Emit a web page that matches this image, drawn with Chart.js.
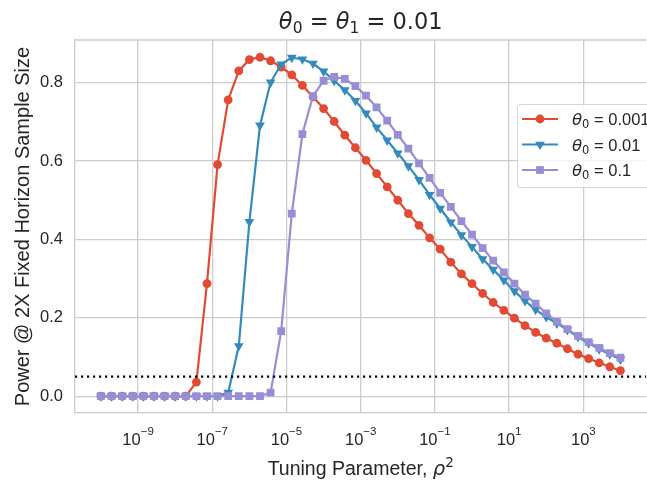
<!DOCTYPE html>
<html>
<head>
<meta charset="utf-8">
<script src="https://cdn.jsdelivr.net/npm/chart.js@4"></script>
<style>
  html, body { margin: 0; padding: 0; background: #fff; overflow: hidden; }
  canvas { display: block; }
</style>
</head>
<body>
<canvas id="chart" width="652" height="481"></canvas>
<script>
// tuning parameter rho^2 (log spaced, 1e-10 .. 1e4, 50 points)
const rhoSq = [
  1e-10, 1.931e-10, 3.728e-10, 7.197e-10, 1.389e-9, 2.683e-9, 5.179e-9,
  1e-8, 1.931e-8, 3.728e-8, 7.197e-8, 1.389e-7, 2.683e-7, 5.179e-7,
  1e-6, 1.931e-6, 3.728e-6, 7.197e-6, 1.389e-5, 2.683e-5, 5.179e-5,
  1e-4, 1.931e-4, 3.728e-4, 7.197e-4, 1.389e-3, 2.683e-3, 5.179e-3,
  1e-2, 1.931e-2, 3.728e-2, 7.197e-2, 0.1389, 0.2683, 0.5179,
  1, 1.931, 3.728, 7.197, 13.89, 26.83, 51.79,
  100, 193.1, 372.8, 719.7, 1389, 2683, 5179,
  10000,
];

const powerTheta0001 = [
  0, 0, 0, 0, 0, 0, 0, 0, 0, 0.036,
  0.287, 0.591, 0.756, 0.830, 0.859, 0.865, 0.856, 0.840, 0.820, 0.793,
  0.764, 0.734, 0.701, 0.666, 0.634, 0.602, 0.568, 0.534, 0.500, 0.466,
  0.436, 0.404, 0.375, 0.342, 0.312, 0.287, 0.262, 0.239, 0.219, 0.199,
  0.180, 0.163, 0.148, 0.135, 0.121, 0.107, 0.096, 0.085, 0.075, 0.065,
];

const powerTheta001 = [
  0, 0, 0, 0, 0, 0, 0, 0, 0, 0,
  0, 0, 0.009, 0.128, 0.445, 0.691, 0.801, 0.847, 0.864, 0.860,
  0.849, 0.829, 0.805, 0.781, 0.754, 0.722, 0.686, 0.653, 0.620, 0.587,
  0.552, 0.514, 0.479, 0.444, 0.411, 0.381, 0.350, 0.323, 0.296, 0.268,
  0.243, 0.221, 0.202, 0.186, 0.169, 0.151, 0.135, 0.120, 0.107, 0.094,
];

const powerTheta01 = [
  0, 0, 0, 0, 0, 0, 0, 0, 0, 0,
  0, 0, 0, 0, 0, 0, 0.009, 0.166, 0.466, 0.669,
  0.766, 0.805, 0.815, 0.810, 0.791, 0.767, 0.737, 0.703, 0.667, 0.632,
  0.594, 0.557, 0.519, 0.483, 0.447, 0.412, 0.378, 0.346, 0.316, 0.287,
  0.259, 0.236, 0.211, 0.190, 0.171, 0.154, 0.138, 0.123, 0.110, 0.098,
];

const seriesNames = ["0.001", "0.01", "0.1"];
const seriesColors = ["#E24A33", "#348ABD", "#988ED5"];
const alphaLevel = 0.05;

const xTickValues = [1e-9, 1e-7, 1e-5, 1e-3, 1e-1, 1e1, 1e3];
const xTickExponents = ["\u22129", "\u22127", "\u22125", "\u22123", "\u22121", "1", "3"];
const yTickValues = [0, 0.2, 0.4, 0.6, 0.8];

const xMin = Math.pow(10, -10.7);
const xMax = Math.pow(10, 4.7);

const TEXT = "#262626";
const GRID = "#cccccc";
const SANS = '"Liberation Sans", Arial, sans-serif';
const MATH = '"DejaVu Sans", sans-serif';

function toPoints(ys) {
  return rhoSq.map((x, i) => ({ x: x, y: ys[i] }));
}

// draw a run of text pieces (for sub/superscripts)
function richWidth(ctx, parts) {
  let w = 0;
  parts.forEach((p) => {
    ctx.font = p.font;
    w += ctx.measureText(p.text).width;
  });
  return w;
}

function drawRich(ctx, parts, x, y, align) {
  let cx = align === "center" ? x - richWidth(ctx, parts) / 2 : x;
  ctx.textAlign = "left";
  ctx.textBaseline = "alphabetic";
  parts.forEach((p) => {
    ctx.font = p.font;
    ctx.fillText(p.text, cx, y + (p.dy || 0));
    cx += ctx.measureText(p.text).width;
  });
}

const markerStyles = [
  { pointStyle: "circle", rotation: 0, radius: 4.4 },
  { pointStyle: "triangle", rotation: 180, radius: 5.6 },
  { pointStyle: "rect", rotation: 0, radius: 5.5 },
];

const decorPlugin = {
  id: "decor",
  afterDraw(chart) {
    const ctx = chart.ctx;
    const area = chart.chartArea;
    const xs = chart.scales.x;
    const midX = (area.left + area.right) / 2;

    ctx.save();
    ctx.fillStyle = TEXT;

    // top spine
    ctx.strokeStyle = GRID;
    ctx.lineWidth = 1.3;
    ctx.beginPath();
    ctx.moveTo(area.left, area.top);
    ctx.lineTo(area.right, area.top);
    ctx.stroke();

    // title
    const big = "22.5px " + MATH;
    const bigIt = "italic 22.5px " + MATH;
    const sub = "15.5px " + MATH;
    drawRich(ctx, [
      { text: "\u03b8", font: bigIt },
      { text: "0", font: sub, dy: 3.5 },
      { text: " = ", font: big },
      { text: "\u03b8", font: bigIt },
      { text: "1", font: sub, dy: 3.5 },
      { text: " = ", font: big },
      { text: "0.01", font: big },
    ], midX, 29, "center");

    // x tick labels 10^k
    xTickValues.forEach((v, i) => {
      const px = xs.getPixelForValue(v);
      drawRich(ctx, [
        { text: "10", font: "16.5px " + SANS },
        { text: xTickExponents[i], font: "11.5px " + SANS, dy: -10 },
      ], px, 445, "center");
    });

    // x axis title
    drawRich(ctx, [
      { text: "Tuning Parameter, ", font: "19.5px " + SANS },
      { text: "\u03c1", font: "italic 19.5px " + MATH },
      { text: "2", font: "13.5px " + MATH, dy: -8 },
    ], midX, 475, "center");

    // y axis title
    ctx.save();
    ctx.translate(29, (area.top + area.bottom) / 2);
    ctx.rotate(-Math.PI / 2);
    ctx.font = "20px " + SANS;
    ctx.textAlign = "center";
    ctx.textBaseline = "alphabetic";
    ctx.fillText("Power @ 2X Fixed Horizon Sample Size", 0, 0);
    ctx.restore();

    // legend
    const lx = 517, ly = 104, rowH = 25.5;
    const labelParts = (name) => [
      { text: "\u03b8", font: "italic 16.5px " + MATH },
      { text: "0", font: "11.5px " + MATH, dy: 3 },
      { text: " = " + name, font: "16.5px " + SANS },
    ];
    let maxW = 0;
    seriesNames.forEach((n) => { maxW = Math.max(maxW, richWidth(ctx, labelParts(n))); });
    const boxW = 55 + maxW + 8;
    const boxH = 83;
    ctx.beginPath();
    ctx.roundRect(lx + 0.5, ly + 0.5, boxW, boxH, 3);
    ctx.fillStyle = "rgba(255,255,255,0.8)";
    ctx.fill();
    ctx.strokeStyle = "rgba(204,204,204,0.8)";
    ctx.lineWidth = 1;
    ctx.stroke();

    seriesNames.forEach((n, i) => {
      const cy = ly + 15 + i * rowH;
      ctx.strokeStyle = seriesColors[i];
      ctx.lineWidth = 2.2;
      ctx.beginPath();
      ctx.moveTo(lx + 5, cy);
      ctx.lineTo(lx + 41, cy);
      ctx.stroke();
      ctx.fillStyle = seriesColors[i];
      Chart.helpers.drawPoint(ctx, {
        pointStyle: markerStyles[i].pointStyle,
        rotation: markerStyles[i].rotation,
        radius: markerStyles[i].radius,
        borderWidth: 0,
      }, lx + 23, cy);
      ctx.fillStyle = TEXT;
      drawRich(ctx, labelParts(n), lx + 55, cy + 6);
    });

    ctx.restore();
  },
};

function makeSeries(values, i) {
  return {
    label: seriesNames[i],
    data: toPoints(values),
    borderColor: seriesColors[i],
    backgroundColor: seriesColors[i],
    borderWidth: 2.2,
    pointStyle: markerStyles[i].pointStyle,
    pointRotation: markerStyles[i].rotation,
    pointRadius: markerStyles[i].radius,
    pointBorderWidth: 0,
    pointHoverRadius: markerStyles[i].radius,
    tension: 0,
    fill: false,
    order: 3 - i,
  };
}

const ctx = document.getElementById("chart").getContext("2d");
const chart = new Chart(ctx, {
  type: "line",
  data: {
    datasets: [
      makeSeries(powerTheta0001, 0),
      makeSeries(powerTheta001, 1),
      makeSeries(powerTheta01, 2),
      {
        label: "alpha",
        data: [{ x: xMin, y: alphaLevel }, { x: xMax, y: alphaLevel }],
        borderColor: "#000000",
        borderWidth: 2.2,
        borderDash: [2.2, 3.8],
        borderCapStyle: "butt",
        pointRadius: 0,
        fill: false,
        order: 0,
      },
    ],
  },
  options: {
    responsive: false,
    animation: false,
    devicePixelRatio: 1,
    layout: { padding: { top: 40, left: 0, right: 0, bottom: 0 } },
    plugins: {
      legend: { display: false },
      tooltip: { enabled: false },
      title: { display: false },
    },
    scales: {
      x: {
        type: "logarithmic",
        min: xMin,
        max: xMax,
        afterBuildTicks: (scale) => {
          scale.ticks = xTickValues.map((v) => ({ value: v }));
        },
        afterFit: (scale) => { scale.height = 68; },
        ticks: { display: false },
        grid: { color: GRID, lineWidth: 1.3, drawTicks: false },
        border: { display: true, color: GRID, width: 1.3 },
      },
      y: {
        type: "linear",
        min: -0.043,
        max: 0.909,
        afterBuildTicks: (scale) => {
          scale.ticks = yTickValues.map((v) => ({ value: v }));
        },
        afterFit: (scale) => { scale.width = 75; },
        ticks: {
          color: TEXT,
          padding: 12,
          font: { family: SANS, size: 16.5 },
          callback: (v) => Number(v).toFixed(1),
        },
        grid: { color: GRID, lineWidth: 1.3, drawTicks: false },
        border: { display: true, color: GRID, width: 1.3 },
      },
    },
  },
  plugins: [decorPlugin],
});
</script>
</body>
</html>
